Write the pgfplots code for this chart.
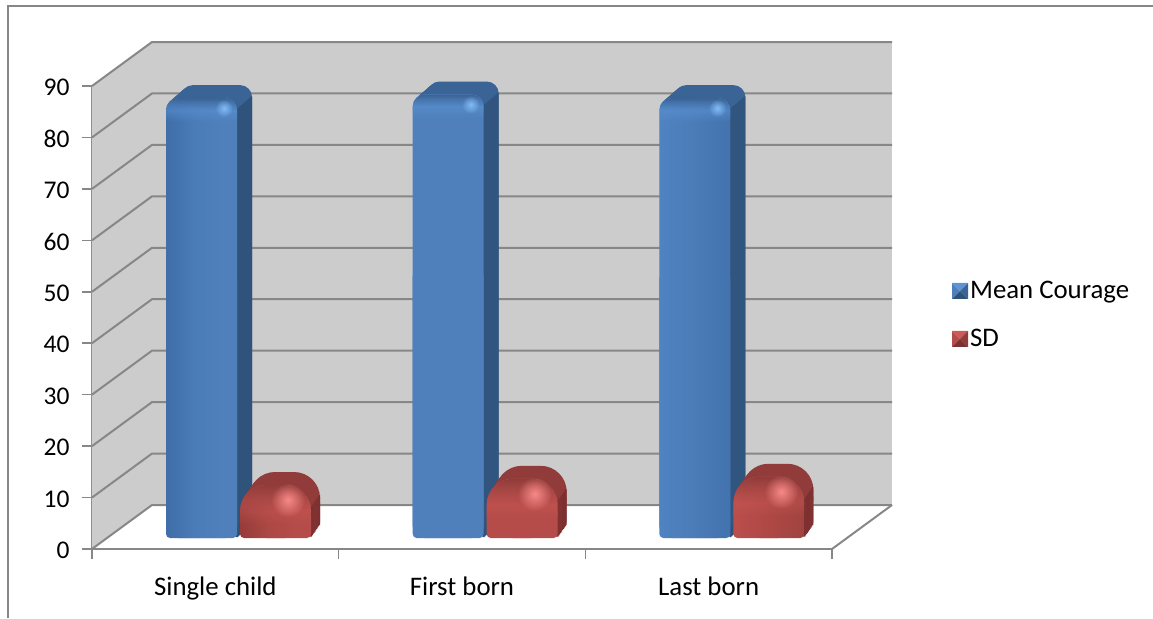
\documentclass[border=0pt]{standalone}
\usepackage{pgfplots}
\usepackage{pgfplotstable}
\usepackage{fontspec}
\usetikzlibrary{fadings}
\setmainfont{Carlito}
\pgfplotsset{compat=1.18}

\definecolor{axisgray}{HTML}{878787}
\definecolor{wallgray}{HTML}{CCCCCC}
\definecolor{bluetop}{HTML}{3A6396}
\definecolor{blueside}{HTML}{2F5279}
\definecolor{bluebody}{HTML}{4F80BB}
\definecolor{blueglow}{HTML}{5C94D6}
\definecolor{bluespot}{HTML}{82BBF5}
\definecolor{redtop}{HTML}{913C3A}
\definecolor{redside}{HTML}{7C302F}
\definecolor{redbody}{HTML}{B54C49}
\definecolor{redglow}{HTML}{CC5A57}
\definecolor{redspot}{HTML}{F88A88}

\tikzfading[name=softspot,inner color=transparent!0,outer color=transparent!100]

% Face shadings of the bars: stops 25bp to 75bp span the width of a bar
\pgfdeclarehorizontalshading{bluefront}{100bp}{
  rgb(0bp)=(0.247,0.431,0.659);
  rgb(25bp)=(0.247,0.431,0.659);
  rgb(27.5bp)=(0.290,0.486,0.718);
  rgb(30bp)=(0.310,0.502,0.733);
  rgb(57.5bp)=(0.310,0.502,0.733);
  rgb(65bp)=(0.325,0.537,0.800);
  rgb(71bp)=(0.298,0.494,0.729);
  rgb(75bp)=(0.263,0.451,0.682);
  rgb(100bp)=(0.263,0.451,0.682)}
\pgfdeclarehorizontalshading{redfront}{100bp}{
  rgb(0bp)=(0.588,0.235,0.227);
  rgb(25bp)=(0.588,0.235,0.227);
  rgb(27.5bp)=(0.675,0.282,0.271);
  rgb(30bp)=(0.710,0.298,0.286);
  rgb(57.5bp)=(0.710,0.298,0.286);
  rgb(65bp)=(0.780,0.337,0.325);
  rgb(71bp)=(0.698,0.290,0.278);
  rgb(75bp)=(0.627,0.263,0.251);
  rgb(100bp)=(0.627,0.263,0.251)}

% Bevelled cap and highlight placed at the top of each bar
\pgfdeclareplotmark{bluecap}{
  \path[x=1pt,y=1pt,draw=none,fill=blueglow,path fading=south]
    (-35.5,-24) -- (-35.5,-12) arc[start angle=180,end angle=90,radius=12] -- (23.5,0)
    arc[start angle=90,end angle=0,radius=12] -- (35.5,-24) -- cycle;
  \path[x=1pt,y=1pt,draw=none,fill=bluetop,path fading=south]
    (-35.5,-12) arc[start angle=180,end angle=90,radius=12] -- (23.5,0)
    arc[start angle=90,end angle=0,radius=12] -- cycle;
  \path[x=1pt,y=1pt,draw=none,fill=bluespot,path fading=softspot]
    (22.5,-10) circle[radius=9];
}
\pgfdeclareplotmark{redcap}{
  \path[x=1pt,y=1pt,draw=none,fill=redglow,path fading=south]
    (-35.5,-40) -- (-35.5,-26) arc[start angle=180,end angle=90,radius=26] -- (9.5,0)
    arc[start angle=90,end angle=0,radius=26] -- (35.5,-40) -- cycle;
  \path[x=1pt,y=1pt,draw=none,fill=redtop,path fading=south]
    (-35.5,-26) arc[start angle=180,end angle=90,radius=26] -- (9.5,0)
    arc[start angle=90,end angle=0,radius=26] -- cycle;
  \path[x=1pt,y=1pt,draw=none,fill=redspot,path fading=softspot]
    (12.5,-15) circle[radius=17];
}

\pgfplotstableread{
x   mean  sd
0.5 85.5  10.3
1.5 86.2  11.5
2.5 85.5  11.9
}\groupdata

% Depth of the chart box, in axis units
\def\depthx{0.24324}
\def\depthy{8.553}

\begin{document}
\begin{tikzpicture}
\path[use as bounding box] (-92pt,-69pt) rectangle (1061pt,549pt);
\draw[axisgray,line width=1.5pt] (-84pt,-69pt) -- (-84pt,543pt) -- (1061pt,543pt);
\begin{axis}[
  scale only axis,
  width=740pt, height=463pt,
  xmin=0, xmax=3, ymin=0, ymax=90,
  clip=false,
  axis lines*=left,
  axis line style={axisgray,line width=2pt,-},
  tick style={axisgray,line width=1.6pt},
  tick align=outside,
  major tick length=10pt,
  xtick={0,1,2,3},
  xticklabels={},
  extra x ticks={0.5,1.5,2.5},
  extra x tick labels={Single child,First born,Last born},
  extra x tick style={tick style={draw=none}},
  ytick={0,10,...,90},
  /pgf/number format/assume math mode=true,
  yticklabel style={font=\fontsize{25.5}{30}\selectfont,xshift=-9pt,yshift=-1.5pt},
  xticklabel style={font=\fontsize{26.8}{30}\selectfont,yshift=-14pt},
  legend style={at={(axis cs:3.486,45.5)},anchor=west,draw=none,fill=none,
    font=\fontsize{26.8}{30}\selectfont,row sep=25pt,inner sep=0pt,
    /tikz/column 2/.style={column sep=10pt}},
  legend cell align=left,
]
% side wall, back wall
\addplot[fill=wallgray,draw=none,forget plot] coordinates {(0,0) (\depthx,\depthy) (\depthx,98.553) (0,90)} -- cycle;
\addplot[fill=wallgray,draw=none,forget plot] coordinates {(\depthx,\depthy) (3.24324,\depthy) (3.24324,98.553) (\depthx,98.553)} -- cycle;
% gridlines running along the side wall and the back wall
\pgfplotsinvokeforeach{0,10,...,90}{
  \pgfmathsetmacro\backy{#1+\depthy}
  \addplot[axisgray,line width=2pt,forget plot] coordinates {(0,#1) (\depthx,\backy) (3.24324,\backy)};
}
% floor edge
\addplot[axisgray,line width=2pt,forget plot] coordinates {(3,0) (3.24324,\depthy)};

% Mean Courage: extruded body, back to front
\pgfplotsinvokeforeach{15,14,...,1}{
  \addplot[ybar,bar width=71pt,bar shift=-13.8pt,draw=none,fill=bluetop,rounded corners=12pt,
    xshift={#1*1pt},yshift={11pt+#1*0.87pt},forget plot] table[x=x,y=mean] {\groupdata};
  \addplot[ybar,bar width=2pt,bar shift=20.7pt,draw=none,fill=blueside,
    xshift={#1*1pt},yshift={11pt+#1*0.87pt},forget plot] table[x=x,y expr=\thisrow{mean}-2.2] {\groupdata};
}
\addplot[ybar,bar width=71pt,bar shift=-13.8pt,draw=none,shade,shading=bluefront,rounded corners=12pt,
  yshift=11pt,forget plot] table[x=x,y=mean] {\groupdata};
\addplot[ybar,bar width=71pt,bar shift=-13.8pt,draw=none,shade,shading=bluefront,rounded corners=4pt,
  yshift=11pt,forget plot] table[x=x,y expr=0.6*\thisrow{mean}] {\groupdata};
\addplot[only marks,mark=bluecap,xshift=-13.8pt,yshift=11pt,forget plot] table[x=x,y=mean] {\groupdata};

% SD: extruded body, back to front
\pgfplotsinvokeforeach{10,9,...,1}{
  \addplot[ybar,bar width=71pt,bar shift=60.2pt,draw=none,fill=redtop,rounded corners=26pt,
    xshift={#1*0.9pt},yshift={11pt+#1*1.3pt},forget plot] table[x=x,y=sd] {\groupdata};
  \addplot[ybar,bar width=71pt,bar shift=60.2pt,draw=none,fill=redtop,rounded corners=3pt,
    xshift={#1*0.9pt},yshift={11pt+#1*1.3pt},forget plot] table[x=x,y expr=0.5*\thisrow{sd}] {\groupdata};
  \addplot[ybar,bar width=2pt,bar shift=94.7pt,draw=none,fill=redside,
    xshift={#1*0.9pt},yshift={11pt+#1*1.3pt},forget plot] table[x=x,y expr=\thisrow{sd}-4.5] {\groupdata};
}
\addplot[ybar,bar width=71pt,bar shift=60.2pt,draw=none,shade,shading=redfront,rounded corners=26pt,
  yshift=11pt,forget plot] table[x=x,y=sd] {\groupdata};
\addplot[ybar,bar width=71pt,bar shift=60.2pt,draw=none,shade,shading=redfront,rounded corners=4pt,
  yshift=11pt,forget plot] table[x=x,y expr=0.5*\thisrow{sd}] {\groupdata};
\addplot[only marks,mark=redcap,xshift=60.2pt,yshift=11pt,forget plot] table[x=x,y=sd] {\groupdata};

% legend keys: small four-sided pyramids
\addlegendimage{legend image code/.code={
  \fill[draw=none,fill=bluebody] (0pt,-8pt) -- (8pt,0pt) -- (0pt,8pt) -- cycle;
  \fill[draw=none,fill=blueglow] (0pt,8pt) -- (8pt,0pt) -- (16pt,8pt) -- cycle;
  \fill[draw=none,fill=bluetop] (16pt,8pt) -- (8pt,0pt) -- (16pt,-8pt) -- cycle;
  \fill[draw=none,fill=blueside] (0pt,-8pt) -- (8pt,0pt) -- (16pt,-8pt) -- cycle;
}}
\addlegendentry{Mean Courage}
\addlegendimage{legend image code/.code={
  \fill[draw=none,fill=redbody] (0pt,-8pt) -- (8pt,0pt) -- (0pt,8pt) -- cycle;
  \fill[draw=none,fill=redglow] (0pt,8pt) -- (8pt,0pt) -- (16pt,8pt) -- cycle;
  \fill[draw=none,fill=redtop] (16pt,8pt) -- (8pt,0pt) -- (16pt,-8pt) -- cycle;
  \fill[draw=none,fill=redside] (0pt,-8pt) -- (8pt,0pt) -- (16pt,-8pt) -- cycle;
}}
\addlegendentry{SD}
\end{axis}
\end{tikzpicture}
\end{document}
